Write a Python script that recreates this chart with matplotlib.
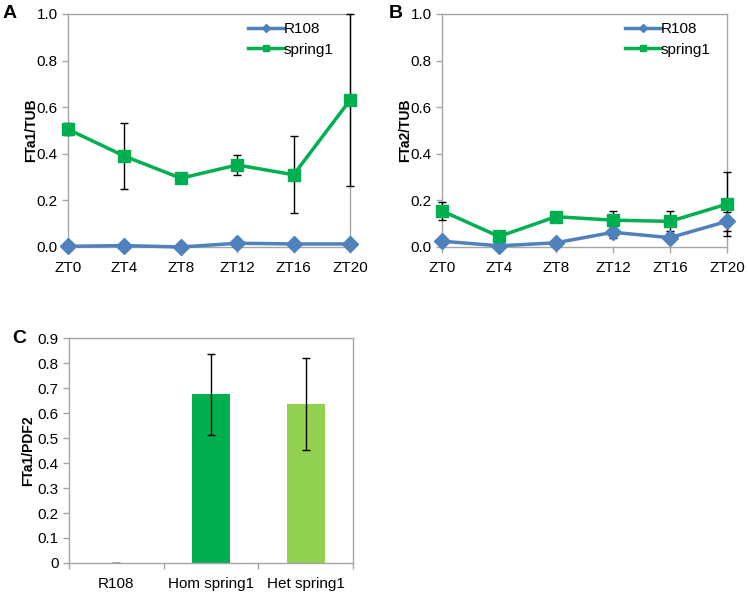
import numpy as np
from matplotlib import pyplot as plt

plt.rcParams['font.family'] = ['Liberation Sans', 'DejaVu Sans']

zt = ['ZT0', 'ZT4', 'ZT8', 'ZT12', 'ZT16', 'ZT20']

# panel A: FTa1/TUB
a_r108 = [0.003, 0.006, 0.0, 0.016, 0.013, 0.013]
a_r108_err = [0.0, 0.0, 0.0, 0.0, 0.0, 0.0]
a_spring = [0.505, 0.39, 0.295, 0.352, 0.31, 0.63]
a_spring_err = [0.025, 0.14, 0.0, 0.043, 0.165, 0.37]

# panel B: FTa2/TUB
b_r108 = [0.025, 0.005, 0.018, 0.063, 0.04, 0.11]
b_r108_err = [0.0, 0.0, 0.0, 0.025, 0.02, 0.04]
b_spring = [0.155, 0.045, 0.13, 0.115, 0.11, 0.184]
b_spring_err = [0.04, 0.0, 0.02, 0.04, 0.043, 0.137]

# panel C: FTa1/PDF2
c_labels = ['R108', 'Hom spring1', 'Het spring1']
c_vals = [0.001, 0.675, 0.635]
c_err = [0.0, 0.162, 0.184]
c_colors = ['#4F81BD', '#00B050', '#92D050']

blue = '#4F81BD'
green = '#00B050'
grey = '#A6A6A6'

fig = plt.figure(figsize=(7.48, 5.92), dpi=100)


def style_box(ax):
    for s in ax.spines.values():
        s.set_color(grey)
        s.set_linewidth(1.0)
    ax.tick_params(axis='both', colors=grey, labelcolor='black', labelsize=11,
                   direction='out', length=4, width=1)


def line_panel(rect, r108, r108_err, spring, spring_err, ylabel, letter, dx):
    ax = fig.add_axes(rect)
    x = np.arange(len(zt))
    ax.errorbar(x, spring, yerr=spring_err, fmt='none', ecolor='black',
                elinewidth=1, capsize=3, zorder=2, clip_on=False)
    ax.errorbar(x, r108, yerr=r108_err, fmt='none', ecolor='black',
                elinewidth=1, capsize=3, zorder=2, clip_on=False)
    ax.plot(x, r108, color=blue, lw=2.5, marker='D', ms=8, label='R108',
            zorder=3, clip_on=False)
    ax.plot(x, spring, color=green, lw=2.5, marker='s', ms=8.5, label='spring1',
            zorder=4, clip_on=False)
    ax.set_xlim(0, 5)
    ax.set_ylim(0, 1.0)
    ax.set_xticks(x)
    ax.set_xticklabels(zt)
    ax.set_yticks(np.arange(0, 1.01, 0.2))
    ax.set_yticklabels([f'{v:.1f}' for v in np.arange(0, 1.01, 0.2)])
    ax.set_ylabel(ylabel, fontsize=10, fontweight='bold', labelpad=-1)
    style_box(ax)
    ax.tick_params(axis='x', pad=6)
    for a in ax.spines.values():
        a.set_zorder(1)
    hs = [plt.Line2D([], [], color=blue, lw=2.5, marker='D', ms=4.5),
          plt.Line2D([], [], color=green, lw=2.5, marker='s', ms=5)]
    ax.legend(hs, ['R108', 'spring1'], loc='upper right', frameon=False,
              fontsize=11, handlelength=2.3, handletextpad=0.0,
              bbox_to_anchor=(0.99, 1.025), labelspacing=0.45)
    fig.text(rect[0] - dx, rect[1] + rect[3], letter, fontsize=14,
             fontweight='bold', va='center')
    return ax


line_panel([0.0909, 0.5828, 0.377, 0.3936], a_r108, a_r108_err, a_spring,
           a_spring_err, 'FTa1/TUB', 'A', 0.087)
line_panel([0.5909, 0.5828, 0.381, 0.3936], b_r108, b_r108_err, b_spring,
           b_spring_err, 'FTa2/TUB', 'B', 0.071)

# panel C
ax = fig.add_axes([0.0922, 0.049, 0.38, 0.38])
xc = np.arange(len(c_labels))
ax.bar(xc, c_vals, width=0.4, color=c_colors, yerr=c_err,
       error_kw=dict(ecolor='black', elinewidth=1, capsize=3))
ax.set_xlim(-0.5, 2.5)
ax.set_ylim(0, 0.9)
ax.set_yticks(np.arange(0, 0.91, 0.1))
ax.set_yticklabels(['0'] + [f'{v:.1f}' for v in np.arange(0.1, 0.91, 0.1)])
ax.set_xticks([-0.5, 0.5, 1.5, 2.5])
ax.set_xticklabels([])
ax.set_xticks(xc, minor=True)
ax.set_xticklabels(c_labels, minor=True)
ax.set_ylabel('FTa1/PDF2', fontsize=10, fontweight='bold', labelpad=2)
style_box(ax)
ax.tick_params(axis='x', which='minor', length=0, pad=10, labelsize=11)
fig.text(0.0922 - 0.076, 0.049 + 0.38, 'C', fontsize=14, fontweight='bold',
         va='center')

plt.savefig('out.png', dpi=100)
